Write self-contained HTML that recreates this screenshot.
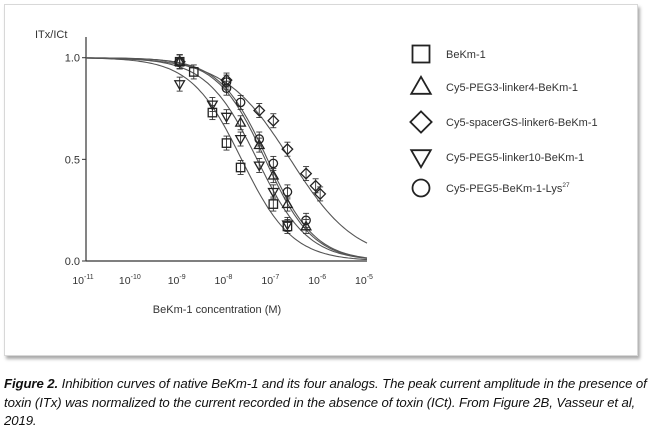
<!DOCTYPE html>
<html><head><meta charset="utf-8"><style>
body{margin:0;width:650px;height:438px;background:#fff;overflow:hidden;font-family:"Liberation Sans",sans-serif;}
#frame{position:absolute;left:4px;top:4px;width:632px;height:350px;border:1px solid #d8d8d8;box-shadow:2px 3px 3px #aaa;background:#fff;}
#cap{position:absolute;left:4px;top:375px;width:646px;font-size:13.2px;line-height:18.5px;font-style:italic;color:#111;letter-spacing:-0.1px;}
</style></head><body>
<div id="frame"></div>
<svg id="chart" width="650" height="438" style="position:absolute;left:0;top:0" font-family="Liberation Sans, sans-serif"></svg>
<div id="cap"><b>Figure 2.</b> Inhibition curves of native BeKm-1 and its four analogs. The peak current amplitude in the presence of toxin (ITx) was normalized to the current recorded in the absence of toxin (ICt). From Figure 2B, Vasseur et al, 2019.</div>
<script>
const xTicks=[-11,-10,-9,-8,-7,-6,-5];
const yTicks=[0,0.5,1.0];
const seriesNames=["BeKm-1","Cy5-PEG3-linker4-BeKm-1","Cy5-spacerGS-linker6-BeKm-1","Cy5-PEG5-linker10-BeKm-1","Cy5-PEG5-BeKm-1-Lys"];
const seriesShapes=["square","triangle","diamond","downtri","circle"];
const sqX=[1e-9,2e-9,5e-9,1e-8,2e-8,1e-7,2e-7];
const sqY=[0.98,0.93,0.73,0.58,0.46,0.28,0.17];
const triX=[1e-9,2e-8,5e-8,1e-7,2e-7,5e-7];
const triY=[0.98,0.68,0.57,0.42,0.28,0.17];
const diaX=[1e-9,1e-8,5e-8,1e-7,2e-7,5e-7,8e-7,1e-6];
const diaY=[0.98,0.89,0.74,0.69,0.55,0.43,0.37,0.33];
const dtX=[1e-9,5e-9,1e-8,2e-8,5e-8,1e-7,2e-7];
const dtY=[0.87,0.77,0.71,0.60,0.47,0.34,0.18];
const ciX=[1e-9,1e-8,1e-8,2e-8,5e-8,1e-7,2e-7,5e-7];
const ciY=[0.98,0.88,0.85,0.78,0.60,0.48,0.34,0.20];
const ic50=[2.1e-8,6.7e-8,2.3e-7,4.5e-8,7.5e-8];
const hill=[0.8,0.85,0.62,0.8,0.85];
const NS="http://www.w3.org/2000/svg";
const svg=document.getElementById('chart');
const X0=86,X1=367,Y0=261,Y1=57.7;
function sx(v){return X0+(Math.log10(v)+11)/6*(X1-X0);}
function sy(v){return Y0-v*(Y0-Y1);}
function mk(t,a,p){const e=document.createElementNS(NS,t);for(const k in a)e.setAttribute(k,a[k]);(p||svg).appendChild(e);return e;}
let e;
e=mk('line',{x1:X0,y1:37,x2:X0,y2:Y0,stroke:'#333','stroke-width':1.2});

e=mk('line',{x1:X0,y1:Y0,x2:X1,y2:Y0,stroke:'#333','stroke-width':1.2});

yTicks.forEach(v=>{
 mk('line',{x1:X0-4,y1:sy(v),x2:X0,y2:sy(v),stroke:'#333'});
 e=mk('text',{x:X0-6,y:sy(v)+4,'text-anchor':'end','font-size':11,fill:'#333'});e.textContent=v.toFixed(1);
 
});
xTicks.forEach(v=>{
 const x=sx(Math.pow(10,v));
 e=mk('text',{x:x-3,y:284,'text-anchor':'middle','font-size':10.5,fill:'#333'});
 e.textContent='10';const s=mk('tspan',{dy:-5,'font-size':7},e);s.textContent=String(v);
 
});
e=mk('text',{x:35,y:38,'font-size':11,fill:'#333'});e.textContent='ITx/ICt';

e=mk('text',{x:217,y:313,'text-anchor':'middle','font-size':11,fill:'#333'});e.textContent='BeKm-1 concentration (M)';

ic50.forEach((c,i)=>{
 let d='';for(let k=0;k<=120;k++){const lx=-11+6*k/120,x=Math.pow(10,lx);const y=1/(1+Math.pow(x/c,hill[i]));d+=(k?'L':'M')+sx(x).toFixed(1)+','+sy(y).toFixed(1);}
 e=mk('path',{d:d,fill:'none',stroke:'#555','stroke-width':1.1});
 
});
function shape(t,x,y,r,p,sw){
 sw=sw||1.3;const st={fill:'none',stroke:'#222','stroke-width':sw};
 if(t==='square')return mk('rect',Object.assign({x:x-r,y:y-r,width:2*r,height:2*r},st),p);
 if(t==='circle')return mk('circle',Object.assign({cx:x,cy:y,r:r},st),p);
 if(t==='diamond')return mk('polygon',Object.assign({points:`${x},${y-r*1.25} ${x+r*1.25},${y} ${x},${y+r*1.25} ${x-r*1.25},${y}`},st),p);
 if(t==='triangle')return mk('polygon',Object.assign({points:`${x},${y-r*1.2} ${x+r*1.15},${y+r*0.8} ${x-r*1.15},${y+r*0.8}`},st),p);
 return mk('polygon',Object.assign({points:`${x},${y+r*1.2} ${x+r*1.15},${y-r*0.8} ${x-r*1.15},${y-r*0.8}`},st),p);
}
const allX=[sqX,triX,diaX,dtX,ciX],allY=[sqY,triY,diaY,dtY,ciY];
allX.forEach((xs,i)=>{
 xs.forEach((xv,j)=>{
  const px=sx(xv),py=sy(allY[i][j]);
  mk('line',{x1:px,y1:py-7,x2:px,y2:py+7,stroke:'#333','stroke-width':0.9});
  mk('line',{x1:px-3,y1:py-7,x2:px+3,y2:py-7,stroke:'#333','stroke-width':0.9});
  mk('line',{x1:px-3,y1:py+7,x2:px+3,y2:py+7,stroke:'#333','stroke-width':0.9});
  e=shape(seriesShapes[i],px,py,4.2);
  
  
 });
});
const legY=[54,87,122,157,188];
seriesNames.forEach((n,i)=>{
 const g=mk('g',{});
 
 
 shape(seriesShapes[i],421,legY[i],8.5,g,1.8);
 const t=mk('text',{x:446,y:legY[i]+4,'font-size':11,fill:'#333'},g);t.textContent=n;
 if(i===4){const s=mk('tspan',{dy:-5,'font-size':6.5},t);s.textContent='27';}
});
</script>
</body></html>
